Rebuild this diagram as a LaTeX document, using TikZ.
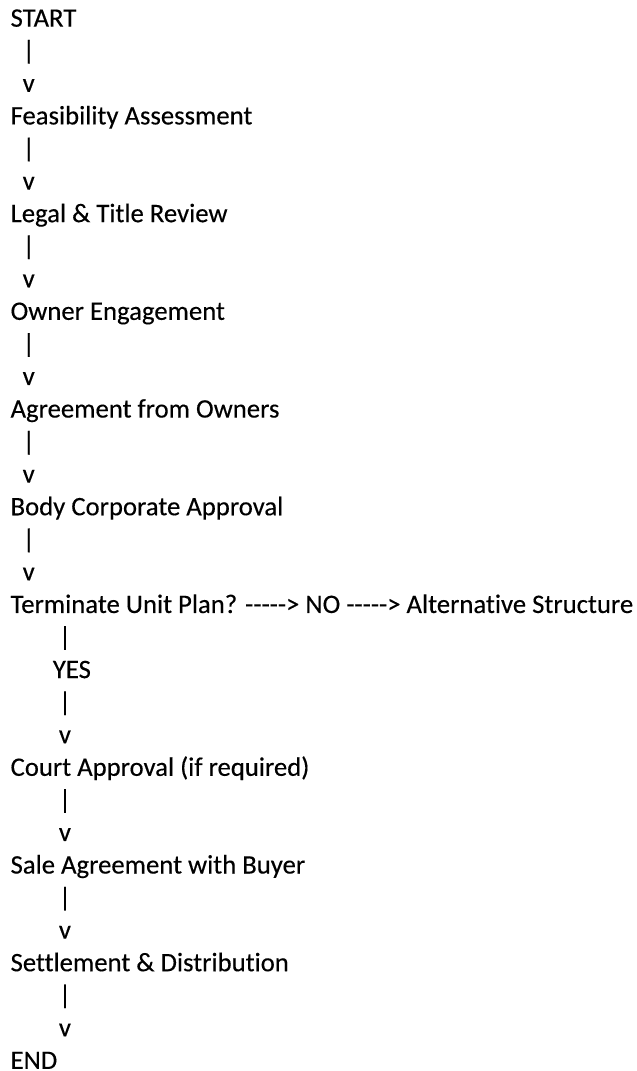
\documentclass[tikz,border=0pt]{standalone}
\usepackage{fontspec}
\setmainfont{Carlito}[Ligatures=NoCommon]
\newfontfamily\flowfont{Carlito}[FakeBold=0.3,Ligatures=NoCommon,RawFeature={-liga;-clig;-dlig;-calt}]
\begin{document}
\begin{tikzpicture}[x=1pt,y=1pt,
  txt/.style={anchor=base west, inner sep=0pt, outer sep=0pt, text=black,
    font=\flowfont\fontsize{26.7}{32.57}\selectfont}]
\useasboundingbox (0,0) rectangle (637,-1071);
\def\lx{10.6}
\def\ly#1{-26.7-(#1-1)*32.57}
\node[txt] (l1)  at (\lx,{\ly{1}})  {START};
\node[txt] (l2)  at (\lx,{\ly{2}})  {\ \ |};
\node[txt] (l3)  at (\lx,{\ly{3}})  {\ \ v};
\node[txt] (l4)  at (\lx,{\ly{4}})  {Feasibility Assessment};
\node[txt] (l5)  at (\lx,{\ly{5}})  {\ \ |};
\node[txt] (l6)  at (\lx,{\ly{6}})  {\ \ v};
\node[txt] (l7)  at (\lx,{\ly{7}})  {Legal \& Title Review};
\node[txt] (l8)  at (\lx,{\ly{8}})  {\ \ |};
\node[txt] (l9)  at (\lx,{\ly{9}})  {\ \ v};
\node[txt] (l10) at (\lx,{\ly{10}}) {Owner Engagement};
\node[txt] (l11) at (\lx,{\ly{11}}) {\ \ |};
\node[txt] (l12) at (\lx,{\ly{12}}) {\ \ v};
\node[txt] (l13) at (\lx,{\ly{13}}) {Agreement from Owners};
\node[txt] (l14) at (\lx,{\ly{14}}) {\ \ |};
\node[txt] (l15) at (\lx,{\ly{15}}) {\ \ v};
\node[txt] (l16) at (\lx,{\ly{16}}) {Body Corporate Approval};
\node[txt] (l17) at (\lx,{\ly{17}}) {\ \ |};
\node[txt] (l18) at (\lx,{\ly{18}}) {\ \ v};
\node[txt] (l19) at (\lx,{\ly{19}}) {Terminate Unit Plan? -{}-{}-{}-{}-> NO -{}-{}-{}-{}-> Alternative Structure};
\node[txt] (l20) at (\lx,{\ly{20}}) {\ \ \ \ \ \ \ \ |};
\node[txt] (l21) at (\lx,{\ly{21}}) {\ \ \ \ \ \ \ YES};
\node[txt] (l22) at (\lx,{\ly{22}}) {\ \ \ \ \ \ \ \ |};
\node[txt] (l23) at (\lx,{\ly{23}}) {\ \ \ \ \ \ \ \ v};
\node[txt] (l24) at (\lx,{\ly{24}}) {Court Approval (if required)};
\node[txt] (l25) at (\lx,{\ly{25}}) {\ \ \ \ \ \ \ \ |};
\node[txt] (l26) at (\lx,{\ly{26}}) {\ \ \ \ \ \ \ \ v};
\node[txt] (l27) at (\lx,{\ly{27}}) {Sale Agreement with Buyer};
\node[txt] (l28) at (\lx,{\ly{28}}) {\ \ \ \ \ \ \ \ |};
\node[txt] (l29) at (\lx,{\ly{29}}) {\ \ \ \ \ \ \ \ v};
\node[txt] (l30) at (\lx,{\ly{30}}) {Settlement \& Distribution};
\node[txt] (l31) at (\lx,{\ly{31}}) {\ \ \ \ \ \ \ \ |};
\node[txt] (l32) at (\lx,{\ly{32}}) {\ \ \ \ \ \ \ \ v};
\node[txt] (l33) at (\lx,{\ly{33}}) {END};
\end{tikzpicture}
\end{document}
